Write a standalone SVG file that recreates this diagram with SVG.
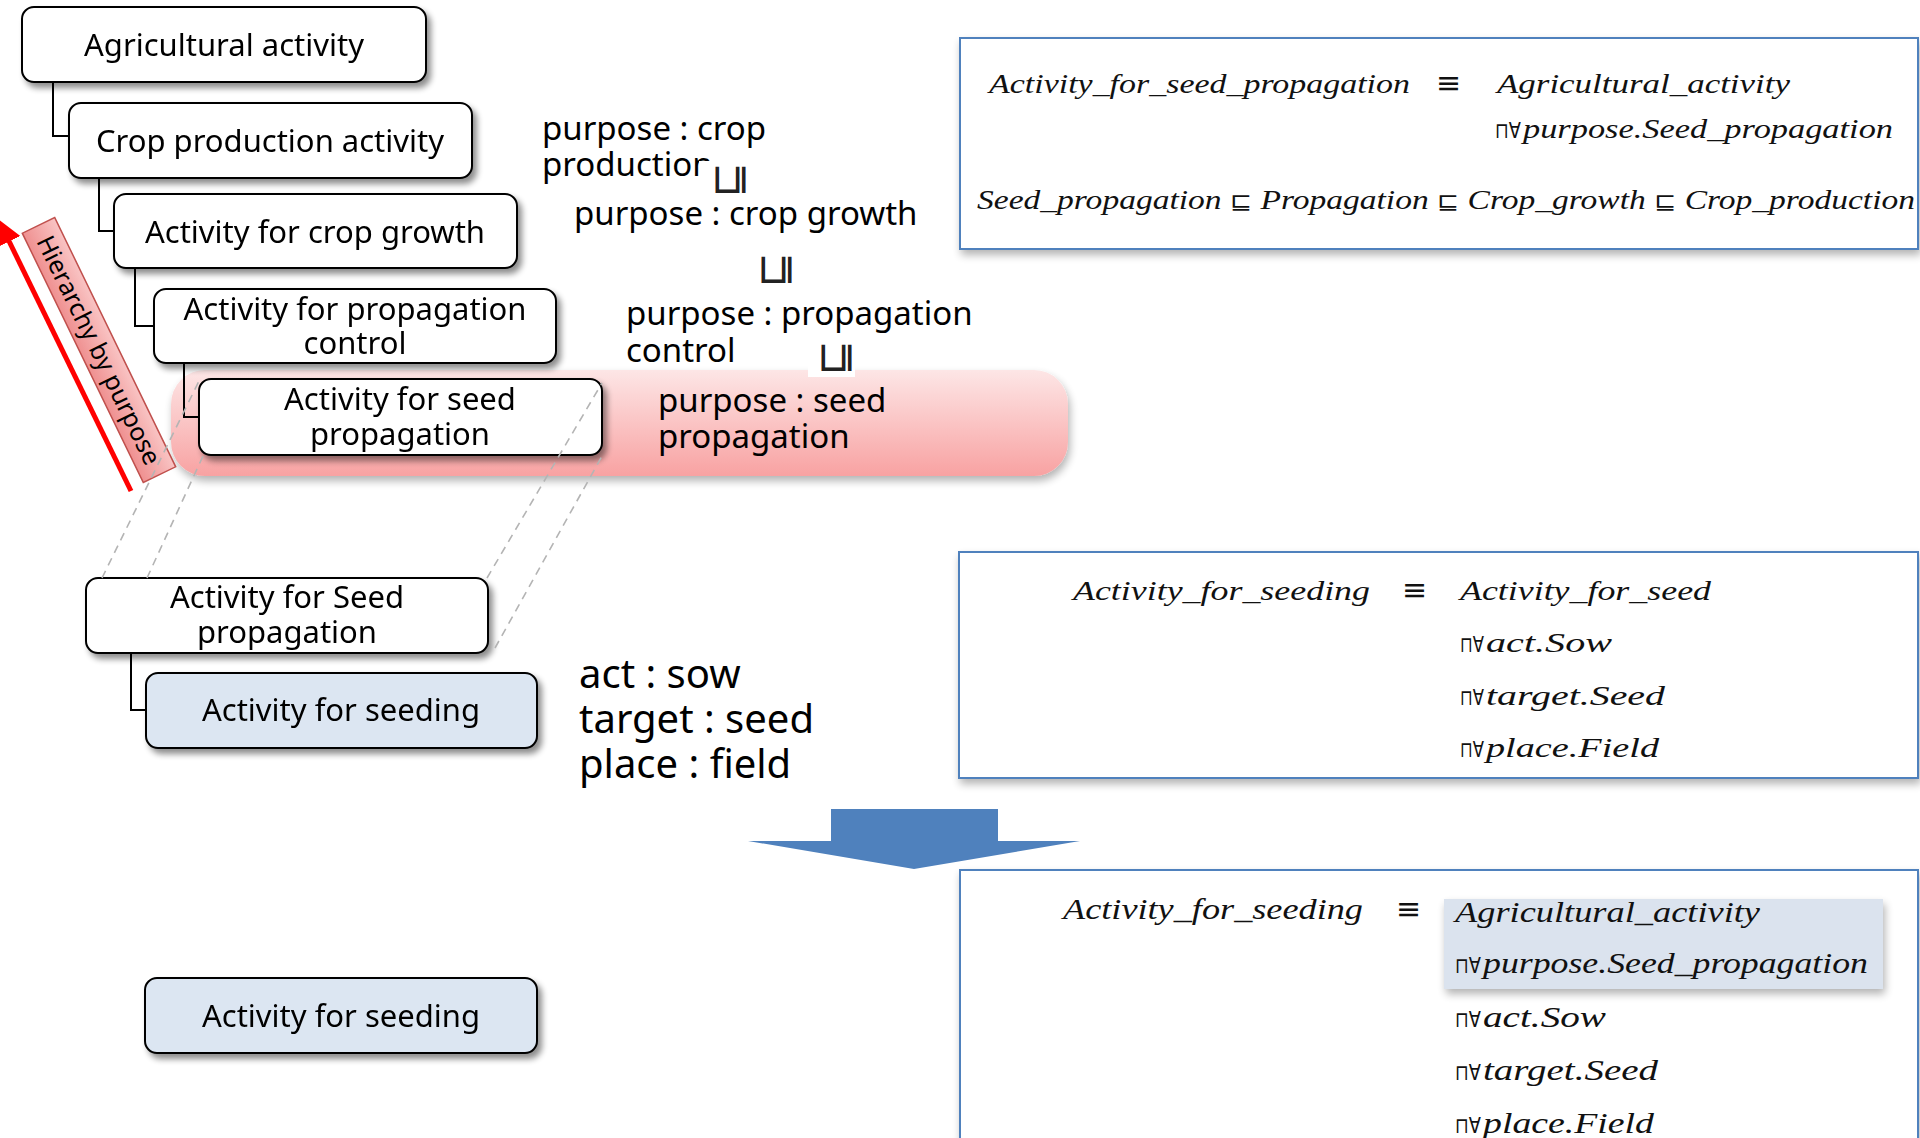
<svg xmlns="http://www.w3.org/2000/svg" width="1920" height="1138" viewBox="0 0 1920 1138">
  <defs>
    <filter id="shadow" x="-10%" y="-20%" width="130%" height="160%">
      <feGaussianBlur in="SourceAlpha" stdDeviation="3"/>
      <feOffset dx="4" dy="5" result="b"/>
      <feComponentTransfer><feFuncA type="linear" slope="0.45"/></feComponentTransfer>
      <feMerge><feMergeNode/><feMergeNode in="SourceGraphic"/></feMerge>
    </filter>
    <filter id="softShadow" x="-5%" y="-10%" width="110%" height="130%">
      <feGaussianBlur in="SourceAlpha" stdDeviation="4"/>
      <feOffset dx="2" dy="5" result="b"/>
      <feComponentTransfer><feFuncA type="linear" slope="0.3"/></feComponentTransfer>
      <feMerge><feMergeNode/><feMergeNode in="SourceGraphic"/></feMerge>
    </filter>
    <linearGradient id="bandGrad" x1="0" y1="0" x2="0" y2="1">
      <stop offset="0" stop-color="#fde6e6"/>
      <stop offset="1" stop-color="#f8a2a2"/>
    </linearGradient>
    <linearGradient id="tagGrad" x1="0" y1="0" x2="0" y2="1">
      <stop offset="0" stop-color="#f9c4c4"/>
      <stop offset="1" stop-color="#ef9090"/>
    </linearGradient>
    <marker id="redHead" viewBox="0 0 10 10" refX="2" refY="5" markerWidth="5" markerHeight="5" orient="auto">
      <path d="M0,0 L10,5 L0,10 Z" fill="#ff0000"/>
    </marker>
    <style>
      .box { fill: #ffffff; stroke: #000000; stroke-width: 2; }
      .boxBlue { fill: #dce6f2; stroke: #000000; stroke-width: 2; }
      .nt { font-family: "Noto Sans", "Liberation Sans", sans-serif; font-size: 31px; fill: #000; text-anchor: middle; }
      .pt { font-family: "Noto Sans", "Liberation Sans", sans-serif; font-size: 33px; fill: #000; }
      .at { font-family: "Noto Sans", "Liberation Sans", sans-serif; font-size: 40px; fill: #000; }
      .link { fill: none; stroke: #000; stroke-width: 2; }
      .proj { fill: none; stroke: #b4b4b4; stroke-width: 1.6; stroke-dasharray: 8 6; }
      .fbox { fill: #ffffff; stroke: #4f81bd; stroke-width: 2; }
      .fx { font-family: "Liberation Serif", "DejaVu Serif", serif; font-style: italic; font-size: 28px; fill: #111; }
      .fxc { font-family: "Liberation Serif", "DejaVu Serif", serif; font-style: italic; font-size: 29px; fill: #111; }
      .op { font-family: "DejaVu Sans", sans-serif; font-style: normal; font-size: 22px; fill: #111; }
      .eq { font-family: "DejaVu Sans", sans-serif; font-size: 30px; fill: #111; }
      .sub { font-family: "DejaVu Sans", sans-serif; font-size: 42px; fill: #222; text-anchor: middle; }
    </style>
  </defs>

  <rect width="1920" height="1138" fill="#ffffff"/>

  <!-- highlighted purpose band -->
  <g id="purpose-band">
    <rect x="171" y="370" width="897" height="106" rx="34" fill="url(#bandGrad)" filter="url(#softShadow)"/>
  </g>

  <!-- hierarchy arrow and its tag -->
  <g id="hierarchy-arrow">
    <line x1="131" y1="491" x2="7" y2="237" stroke="#ff0000" stroke-width="5" marker-end="url(#redHead)"/>
  </g>
  <g id="hierarchy-tag" transform="translate(99,350) rotate(64.1)">
    <rect x="-138.5" y="-18" width="277" height="36" fill="url(#tagGrad)" stroke="#c0504d" stroke-width="1.5"/>
    <text x="0" y="9" class="nt" style="font-size:25px">Hierarchy by purpose</text>
  </g>

  <!-- is-a connectors -->
  <g id="connectors">
    <path class="link" d="M53,82 V136 H69"/>
    <path class="link" d="M99,178 V231 H114"/>
    <path class="link" d="M135,268 V326 H154"/>
    <path class="link" d="M184,363 V417 H199"/>
    <path class="link" d="M131,653 V710 H146"/>
  </g>

  <!-- activity nodes -->
  <g id="node-agricultural" filter="url(#shadow)">
    <rect class="box" x="22" y="7" width="404" height="75" rx="12"/>
    <text class="nt" x="224" y="56">Agricultural activity</text>
  </g>
  <g id="node-crop-production" filter="url(#shadow)">
    <rect class="box" x="69" y="103" width="403" height="75" rx="12"/>
    <text class="nt" x="270" y="152">Crop production activity</text>
  </g>
  <g id="node-crop-growth" filter="url(#shadow)">
    <rect class="box" x="114" y="194" width="403" height="74" rx="12"/>
    <text class="nt" x="315" y="243">Activity for crop growth</text>
  </g>
  <g id="node-propagation-control" filter="url(#shadow)">
    <rect class="box" x="154" y="289" width="402" height="74" rx="12"/>
    <text class="nt" x="355" y="320">Activity for propagation</text>
    <text class="nt" x="355" y="354">control</text>
  </g>
  <g id="node-seed-propagation" filter="url(#shadow)">
    <rect class="box" x="199" y="379" width="403" height="76" rx="12"/>
    <text class="nt" x="400" y="410">Activity for seed</text>
    <text class="nt" x="400" y="445">propagation</text>
  </g>
  <g id="node-seed-propagation-copy" filter="url(#shadow)">
    <rect class="box" x="86" y="578" width="402" height="75" rx="12"/>
    <text class="nt" x="287" y="608">Activity for Seed</text>
    <text class="nt" x="287" y="643">propagation</text>
  </g>
  <g id="node-seeding" filter="url(#shadow)">
    <rect class="boxBlue" x="146" y="673" width="391" height="75" rx="12"/>
    <text class="nt" x="341" y="721">Activity for seeding</text>
  </g>
  <g id="node-seeding-result" filter="url(#shadow)">
    <rect class="boxBlue" x="145" y="978" width="392" height="75" rx="12"/>
    <text class="nt" x="341" y="1027">Activity for seeding</text>
  </g>

  <!-- projection guides between the two seed propagation nodes -->
  <g id="projection-lines">
    <line class="proj" x1="102" y1="578" x2="199" y2="381"/>
    <line class="proj" x1="147" y1="578" x2="203" y2="456"/>
    <line class="proj" x1="487" y1="578" x2="602" y2="383"/>
    <line class="proj" x1="495" y1="648" x2="602" y2="456"/>
  </g>

  <!-- purpose labels -->
  <g id="purpose-labels">
    <text class="pt" x="542" y="140">purpose : crop</text>
    <text class="pt" x="542" y="176">production</text>
    <text class="pt" x="574" y="225">purpose : crop growth</text>
    <text class="pt" x="626" y="325">purpose : propagation</text>
    <text class="pt" x="626" y="362">control</text>
    <text class="pt" x="658" y="412">purpose : seed</text>
    <text class="pt" x="658" y="448">propagation</text>
  </g>

  <!-- subsumption marks between purpose labels -->
  <g id="subsumption-marks">
    <rect x="699" y="161" width="49" height="36" fill="#ffffff"/>
    <text class="sub" transform="translate(727,180) rotate(-90)" dominant-baseline="central">⊑</text>
    <rect x="750" y="252" width="46" height="36" fill="#ffffff"/>
    <text class="sub" transform="translate(773,270) rotate(-90)" dominant-baseline="central">⊑</text>
    <rect x="808" y="341" width="47" height="36" fill="#ffffff"/>
    <text class="sub" transform="translate(833,358) rotate(-90)" dominant-baseline="central">⊑</text>
  </g>

  <!-- attribute labels -->
  <g id="attributes">
    <text class="at" x="579" y="688">act : sow</text>
    <text class="at" x="579" y="733">target : seed</text>
    <text class="at" x="579" y="778">place : field</text>
  </g>

  <!-- definition of seed propagation activity -->
  <g id="formula-seed-propagation">
    <rect class="fbox" x="960" y="38" width="958" height="211" filter="url(#softShadow)"/>
    <text class="fx" x="989" y="93" textLength="421" lengthAdjust="spacingAndGlyphs">Activity_for_seed_propagation</text>
    <text class="eq" x="1436" y="93">≡</text>
    <text class="fx" x="1497" y="93" textLength="293" lengthAdjust="spacingAndGlyphs">Agricultural_activity</text>
    <text class="op" x="1495" y="138" textLength="26" lengthAdjust="spacingAndGlyphs">⊓∀</text>
    <text class="fx" x="1523" y="138" textLength="370" lengthAdjust="spacingAndGlyphs">purpose.Seed_propagation</text>
    <text class="fx" x="977" y="209" textLength="938" lengthAdjust="spacingAndGlyphs">Seed_propagation <tspan class="op">⊑</tspan> Propagation <tspan class="op">⊑</tspan> Crop_growth <tspan class="op">⊑</tspan> Crop_production</text>
  </g>

  <!-- definition of seeding activity -->
  <g id="formula-seeding">
    <rect class="fbox" x="959" y="552" width="959" height="226" filter="url(#softShadow)"/>
    <text class="fx" x="1073" y="600" textLength="297" lengthAdjust="spacingAndGlyphs">Activity_for_seeding</text>
    <text class="eq" x="1402" y="600">≡</text>
    <text class="fx" x="1460" y="600" textLength="251" lengthAdjust="spacingAndGlyphs">Activity_for_seed</text>
    <text class="op" x="1460" y="652" textLength="24" lengthAdjust="spacingAndGlyphs">⊓∀</text>
    <text class="fx" x="1486" y="652" textLength="126" lengthAdjust="spacingAndGlyphs">act.Sow</text>
    <text class="op" x="1460" y="705" textLength="24" lengthAdjust="spacingAndGlyphs">⊓∀</text>
    <text class="fx" x="1486" y="705" textLength="179" lengthAdjust="spacingAndGlyphs">target.Seed</text>
    <text class="op" x="1460" y="757" textLength="24" lengthAdjust="spacingAndGlyphs">⊓∀</text>
    <text class="fx" x="1486" y="757" textLength="173" lengthAdjust="spacingAndGlyphs">place.Field</text>
  </g>

  <!-- derivation arrow -->
  <g id="derive-arrow">
    <polygon points="831,809 998,809 998,841 1080,841 914,869 748,841 831,841" fill="#4f81bd"/>
  </g>

  <!-- expanded definition of seeding activity -->
  <g id="formula-seeding-expanded">
    <rect class="fbox" x="960" y="870" width="958" height="280" filter="url(#softShadow)"/>
    <rect x="1444" y="899" width="439" height="90" fill="#dbe3ee" filter="url(#softShadow)"/>
    <text class="fxc" x="1063" y="919" textLength="300" lengthAdjust="spacingAndGlyphs">Activity_for_seeding</text>
    <text class="eq" x="1396" y="919">≡</text>
    <text class="fxc" x="1455" y="922" textLength="305" lengthAdjust="spacingAndGlyphs">Agricultural_activity</text>
    <text class="op" x="1455" y="973" textLength="26" lengthAdjust="spacingAndGlyphs">⊓∀</text>
    <text class="fxc" x="1483" y="973" textLength="385" lengthAdjust="spacingAndGlyphs">purpose.Seed_propagation</text>
    <text class="op" x="1455" y="1027" textLength="26" lengthAdjust="spacingAndGlyphs">⊓∀</text>
    <text class="fxc" x="1483" y="1027" textLength="123" lengthAdjust="spacingAndGlyphs">act.Sow</text>
    <text class="op" x="1455" y="1080" textLength="26" lengthAdjust="spacingAndGlyphs">⊓∀</text>
    <text class="fxc" x="1483" y="1080" textLength="175" lengthAdjust="spacingAndGlyphs">target.Seed</text>
    <text class="op" x="1455" y="1133" textLength="26" lengthAdjust="spacingAndGlyphs">⊓∀</text>
    <text class="fxc" x="1483" y="1133" textLength="171" lengthAdjust="spacingAndGlyphs">place.Field</text>
  </g>
</svg>
